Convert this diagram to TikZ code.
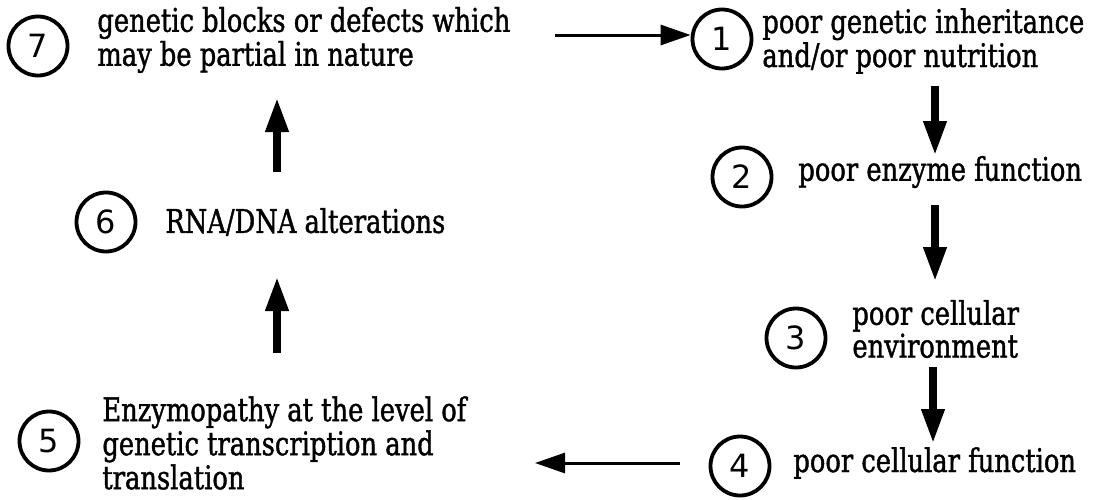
\documentclass[tikz,border=0pt]{standalone}
\usepackage{fontspec}
\setmainfont{DejaVu Serif}[FakeStretch=0.79,FakeBold=1.2]
\newfontfamily\numfont{DejaVu Sans}
\usetikzlibrary{arrows.meta}
\begin{document}
\begin{tikzpicture}[x=0.5pt,y=-0.5pt,
  num/.style={circle, draw, line width=1.9pt, minimum size=29.5pt, inner sep=0pt,
    font=\numfont\fontsize{16}{16}\selectfont},
  lbl/.style={anchor=west, align=left, inner sep=0pt,
    font=\fontsize{16.3}{14.6}\selectfont},
  harrow/.style={line width=1.5pt, -{Triangle[length=15pt,width=10pt]}},
  varrow/.style={line width=3.6pt, -{Triangle[length=17pt,width=11pt]}}]
\useasboundingbox (0,0) rectangle (1107,499);
% nodes
\node[num] (c7) at (38,46) {7};
\node[lbl] (t7) at (97,40) {genetic blocks or defects which\\may be partial in nature};
\node[num] (c1) at (722,39) {1};
\node[lbl] (t1) at (762,41) {poor genetic inheritance\\and/or poor nutrition};
\node[num] (c2) at (742,177) {2};
\node[lbl] (t2) at (798,172) {poor enzyme function};
\node[num] (c3) at (796,338) {3};
\node[lbl] (t3) at (852,329) {poor cellular\\environment};
\node[num] (c4) at (740,466) {4};
\node[lbl] (t4) at (793,463) {poor cellular function};
\node[num] (c5) at (49,441) {5};
\node[lbl] (t5) at (102,443) {Enzymopathy at the level of\\genetic transcription and\\translation};
\node[num] (c6) at (106,222) {6};
\node[lbl] (t6) at (165,222) {RNA/DNA alterations};
% arrow end points
\coordinate (a7s) at (555,35);
\coordinate (a1s) at (935,86);  \coordinate (a1e) at (935,155);
\coordinate (a2s) at (935,205); \coordinate (a2e) at (935,281);
\coordinate (a3s) at (933,367); \coordinate (a3e) at (933,443);
\coordinate (a4s) at (680,463); \coordinate (a4e) at (535,463);
\coordinate (a5s) at (277,353); \coordinate (a5e) at (277,277);
\coordinate (a6s) at (277,172); \coordinate (a6e) at (277,98);
% connectors
\draw[harrow] (a7s) -- (a7s -| c1.west);
\draw[varrow] (a1s) -- (a1e);
\draw[varrow] (a2s) -- (a2e);
\draw[varrow] (a3s) -- (a3e);
\draw[harrow] (a4s) -- (a4e);
\draw[varrow] (a5s) -- (a5e);
\draw[varrow] (a6s) -- (a6e);
\end{tikzpicture}
\end{document}
